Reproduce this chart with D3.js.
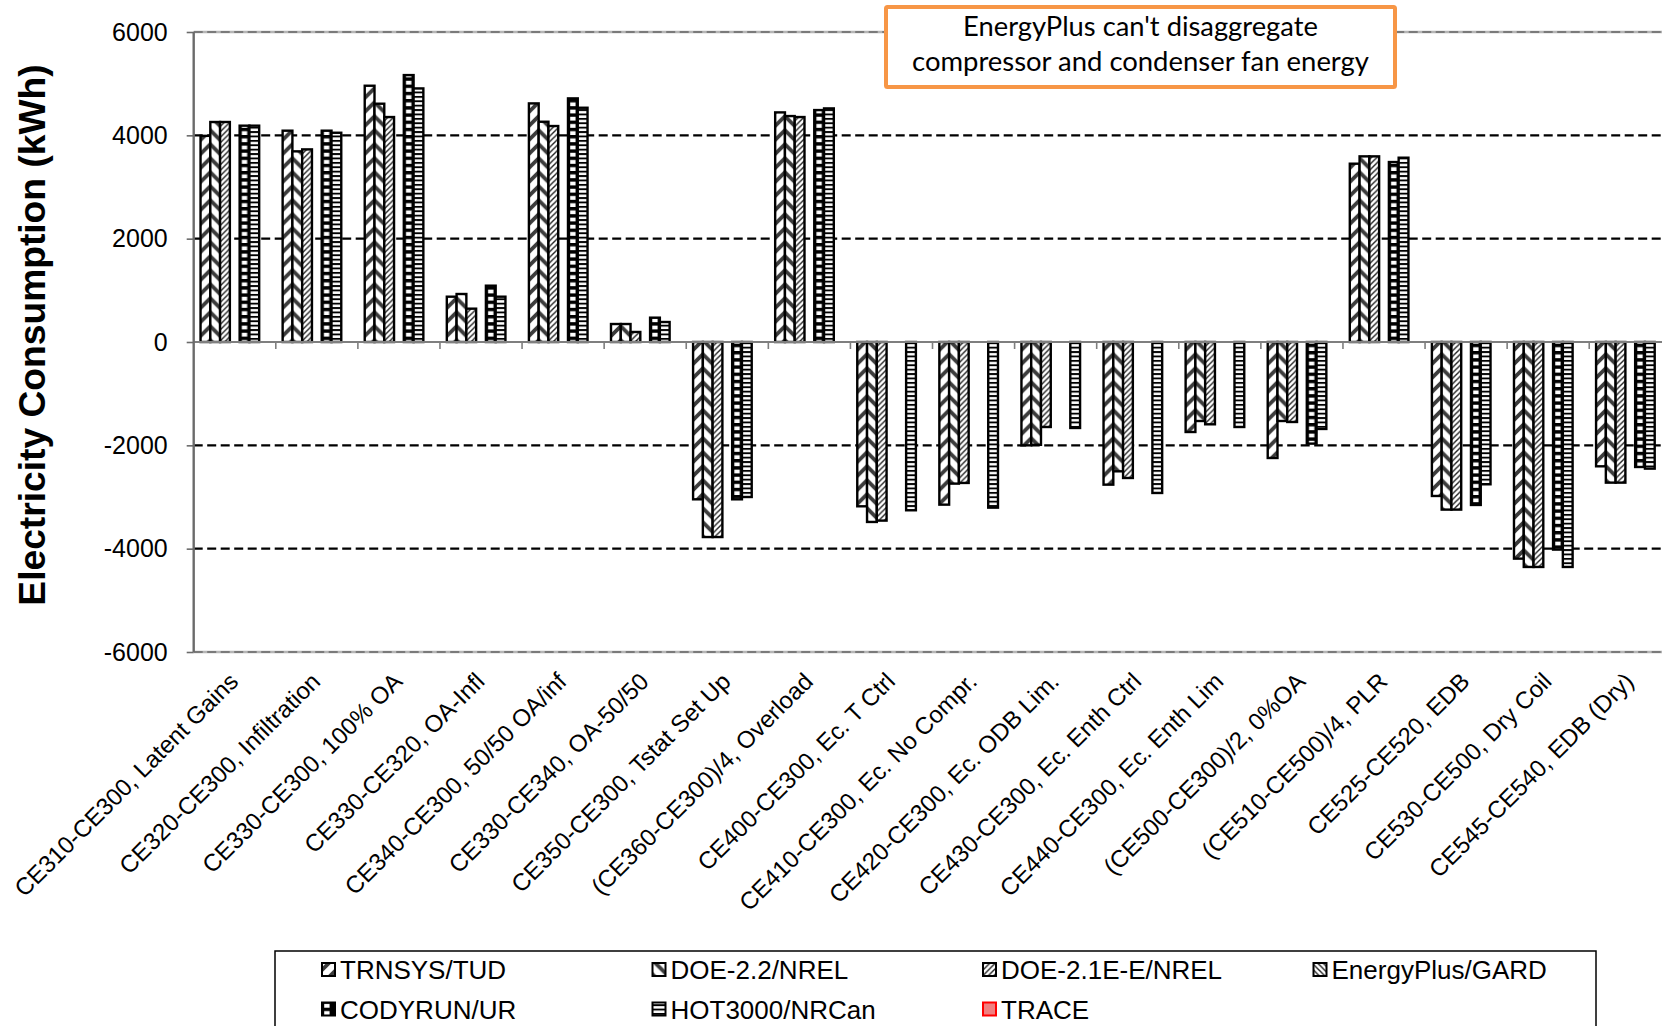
<!DOCTYPE html>
<html>
<head>
<meta charset="utf-8">
<script src="https://cdn.jsdelivr.net/npm/d3@7"></script>
<style>
  html, body { margin: 0; padding: 0; background: #fff; }
  svg { display: block; }
</style>
</head>
<body>
<svg id="chart" width="1662" height="1026"></svg>
<script>
// ---------------- DATA ----------------
const categories = [
  "CE310-CE300, Latent Gains",
  "CE320-CE300, Infiltration",
  "CE330-CE300, 100% OA",
  "CE330-CE320, OA-Infl",
  "CE340-CE300, 50/50 OA/inf",
  "CE330-CE340, OA-50/50",
  "CE350-CE300, Tstat Set Up",
  "(CE360-CE300)/4, Overload",
  "CE400-CE300, Ec. T Ctrl",
  "CE410-CE300, Ec. No Compr.",
  "CE420-CE300, Ec. ODB Lim.",
  "CE430-CE300, Ec. Enth Ctrl",
  "CE440-CE300, Ec. Enth Lim",
  "(CE500-CE300)/2, 0%OA",
  "(CE510-CE500)/4, PLR",
  "CE525-CE520, EDB",
  "CE530-CE500, Dry Coil",
  "CE545-CE540, EDB (Dry)"
];
const seriesNames = ["TRNSYS/TUD", "DOE-2.2/NREL", "DOE-2.1E-E/NREL", "EnergyPlus/GARD", "CODYRUN/UR", "HOT3000/NRCan", "TRACE"];

const trnsys     = [3990, 4090, 4960, 877, 4618, 348, -3045, 4444, -3180, -3148, -2000, -2761, -1742, -2245, 3451, -2980, -4193, -2406];
const doe22      = [4258, 3690, 4612, 929, 4263, 348, -3775, 4373, -3483, -2741, -1990, -2503, -1529, -1529, 3593, -3244, -4354, -2722];
const doe21e     = [4258, 3728, 4354, 645, 4180, 194, -3775, 4354, -3457, -2728, -1645, -2632, -1593, -1548, 3593, -3244, -4354, -2722];
const energyplus = [null, null, null, null, null, null, null, null, null, null, null, null, null, null, null, null, null, null];
const codyrun    = [4187, 4090, 5166, 1090, 4715, 471, -3045, 4489, null, null, null, null, null, -1967, 3483, -3154, -4018, -2419];
const hot3000    = [4187, 4050, 4908, 877, 4534, 387, -3000, 4521, -3257, -3206, -1664, -2922, -1645, -1683, 3567, -2754, -4354, -2451];
const trace      = [null, null, null, null, null, null, null, null, null, null, null, null, null, null, null, null, null, null];

const yTicks = [-6000, -4000, -2000, 0, 2000, 4000, 6000];
const yTitle = "Electricity Consumption (kWh)";
const noteLines = ["EnergyPlus can't disaggregate", "compressor and condenser fan energy"];

const seriesValues = [trnsys, doe22, doe21e, energyplus, codyrun, hot3000, trace];

// ---------------- LAYOUT ----------------
const svg = d3.select("#chart");
const plotLeft = 193.7, catWidth = 82.09;
const plotRight = plotLeft + catWidth * categories.length;
const plotTop = 32, plotBottom = 652;

const x0 = d3.scaleBand().domain(categories).range([plotLeft, plotRight]).padding(0);
const groupInner = 68.4;
const x1 = d3.scaleBand().domain(seriesNames)
  .range([(catWidth - groupInner) / 2, (catWidth + groupInner) / 2]).padding(0);
const bw = x1.bandwidth();
const y = d3.scaleLinear().domain([-6000, 6000]).range([plotBottom, plotTop]);

// ---------------- PATTERNS ----------------
const defs = svg.append("defs");
const P = 14;
const stripe = "#3c3c3c";
function diagUp(id, p, w, color, dy) {
  const pat = defs.append("pattern").attr("id", id).attr("patternUnits", "userSpaceOnUse")
    .attr("width", p).attr("height", p);
  if (dy) pat.attr("patternTransform", `translate(0,${dy})`);
  pat.append("rect").attr("width", p).attr("height", p).attr("fill", "#fff");
  pat.append("path").attr("d", `M-2,2 L2,-2 M0,${p} L${p},0 M${p-2},${p+2} L${p+2},${p-2}`)
    .attr("stroke", color).attr("stroke-width", w);
}
function diagDown(id, p, w, color, dy) {
  const pat = defs.append("pattern").attr("id", id).attr("patternUnits", "userSpaceOnUse")
    .attr("width", p).attr("height", p);
  if (dy) pat.attr("patternTransform", `translate(0,${dy})`);
  pat.append("rect").attr("width", p).attr("height", p).attr("fill", "#fff");
  pat.append("path").attr("d", `M0,0 L${p},${p} M-2,${p-2} L2,${p+2} M${p-2},-2 L${p+2},2`)
    .attr("stroke", color).attr("stroke-width", w);
}
diagUp("p0", P, 3.8, stripe, 0);
diagDown("p1", P, 3.8, stripe, -bw);
diagUp("p2", 5.5, 1.4, "#222", 0);
diagDown("p3", 5.5, 1.4, "#222", 0);
// CODYRUN: black with white bricks
(function () {
  const pat = defs.append("pattern").attr("id", "p4").attr("patternUnits", "userSpaceOnUse")
    .attr("width", 40).attr("height", 7.2);
  pat.append("rect").attr("width", 40).attr("height", 7.2).attr("fill", "#000");
  pat.append("rect").attr("x", 2.2).attr("y", 1.6).attr("width", bw - 4.4).attr("height", 3.8).attr("fill", "#fff");
})();
// HOT3000: fine horizontal stripes
(function () {
  const pat = defs.append("pattern").attr("id", "p5").attr("patternUnits", "userSpaceOnUse")
    .attr("width", 40).attr("height", 4.4);
  pat.append("rect").attr("width", 40).attr("height", 4.4).attr("fill", "#000");
  pat.append("rect").attr("x", 0).attr("y", 1.0).attr("width", 40).attr("height", 2.5).attr("fill", "#fff");
})();
const fills = ["url(#p0)", "url(#p1)", "url(#p2)", "url(#p3)", "url(#p4)", "url(#p5)", "#f08080"];
const strokes = ["#000", "#000", "#000", "#000", "#000", "#000", "#ff0000"];

// ---------------- GRID ----------------
const grid = svg.append("g");
grid.selectAll("line.g").data(yTicks.filter(t => t !== 0 && Math.abs(t) !== 6000)).join("line")
  .attr("x1", plotLeft).attr("x2", plotRight + 20)
  .attr("y1", d => y(d)).attr("y2", d => y(d))
  .attr("stroke", "#000").attr("stroke-width", 2.4).attr("stroke-dasharray", "9,4.5");
grid.selectAll("line.b").data([6000, -6000]).join("line")
  .attr("x1", plotLeft).attr("x2", plotRight + 20)
  .attr("y1", d => y(d)).attr("y2", d => y(d))
  .attr("stroke", "#b5b5b5").attr("stroke-width", 2.4);
grid.selectAll("line.b2").data([6000, -6000]).join("line")
  .attr("x1", plotLeft).attr("x2", plotRight + 20)
  .attr("y1", d => y(d)).attr("y2", d => y(d))
  .attr("stroke", "#7a7a7a").attr("stroke-width", 2).attr("stroke-dasharray", "9,4.5");

// ---------------- BARS ----------------
const barData = [];
categories.forEach((c, ci) => {
  seriesNames.forEach((s, si) => {
    const v = seriesValues[si][ci];
    if (v !== null && v !== undefined) barData.push({ c, s, si, v });
  });
});
const bars = svg.append("g").selectAll("g").data(barData).join("g")
  .attr("transform", d => `translate(${x0(d.c) + x1(d.s)},0)`);
bars.append("rect")
  .attr("x", 0).attr("width", bw)
  .attr("y", d => y(Math.max(0, d.v)))
  .attr("height", d => Math.abs(y(d.v) - y(0)))
  .attr("fill", d => fills[d.si])
  .attr("stroke", d => strokes[d.si]).attr("stroke-width", 2.4);

// ---------------- AXES ----------------
svg.append("line").attr("x1", plotLeft).attr("x2", plotRight + 20)
  .attr("y1", y(0)).attr("y2", y(0)).attr("stroke", "#7f7f7f").attr("stroke-width", 2);
svg.append("g").selectAll("line").data(categories.slice(1)).join("line")
  .attr("x1", d => x0(d)).attr("x2", d => x0(d))
  .attr("y1", y(0)).attr("y2", y(0) + 7)
  .attr("stroke", "#7f7f7f").attr("stroke-width", 1.6);

const yAxis = svg.append("g").attr("transform", `translate(${plotLeft},0)`)
  .call(d3.axisLeft(y).tickValues(yTicks).tickSize(7).tickPadding(19).tickFormat(d => String(d)));
yAxis.select(".domain").attr("stroke", "#6b6b6b").attr("stroke-width", 2.4)
  .attr("d", `M0,${plotTop}V${plotBottom}`);
yAxis.selectAll(".tick line").attr("stroke", "#6b6b6b").attr("stroke-width", 1.6);
yAxis.selectAll(".tick text").attr("font-family", "'Liberation Sans', Arial, sans-serif")
  .attr("font-size", 25).attr("fill", "#000");

// category labels
svg.append("g").selectAll("text").data(categories).join("text")
  .attr("transform", d => `translate(${x0(d) + x0.bandwidth() / 2 - 1},${plotBottom + 25}) rotate(-45)`)
  .attr("text-anchor", "end").attr("dy", "0.35em")
  .attr("font-family", "'Liberation Sans', Arial, sans-serif").attr("font-size", 24)
  .attr("fill", "#000").text(d => d);

// y title
svg.append("text")
  .attr("transform", `translate(32,335) rotate(-90)`)
  .attr("text-anchor", "middle").attr("dy", "0.36em")
  .attr("font-family", "'Liberation Sans', Arial, sans-serif").attr("font-weight", "bold")
  .attr("font-size", 37.2).attr("fill", "#000").text(yTitle);

// ---------------- NOTE BOX ----------------
const note = svg.append("g");
note.append("rect").attr("x", 886).attr("y", 7).attr("width", 509).attr("height", 80)
  .attr("fill", "#fff").attr("stroke", "#f79646").attr("stroke-width", 4).attr("rx", 1.5);
const noteTargets = [355, 457];
note.selectAll("text").data(noteLines).join("text")
  .attr("x", 1140.5).attr("y", (d, i) => 26 + i * 35)
  .attr("text-anchor", "middle").attr("dy", "0.35em")
  .attr("font-family", "Lato, 'Open Sans', sans-serif").attr("font-size", 28)
  .attr("fill", "#000").text(d => d)
  .each(function (d, i) {
    const w = this.getComputedTextLength();
    if (w > 0) d3.select(this).attr("font-size", 28 * noteTargets[i] / w);
  });

// ---------------- LEGEND ----------------
const legend = svg.append("g");
legend.append("rect").attr("x", 275).attr("y", 951).attr("width", 1321).attr("height", 120)
  .attr("fill", "#fff").attr("stroke", "#000").attr("stroke-width", 1.5);
const legItems = legend.selectAll("g").data(seriesNames).join("g")
  .attr("transform", (d, i) => `translate(${322 + (i % 4) * 330.5},${970 + Math.floor(i / 4) * 39.5})`);
legItems.append("rect").attr("x", 0).attr("y", -7).attr("width", 13).attr("height", 13)
  .attr("fill", (d, i) => fills[i]).attr("stroke", (d, i) => strokes[i]).attr("stroke-width", 2);
legItems.append("text").attr("x", 18).attr("dy", "0.36em")
  .attr("font-family", "'Liberation Sans', Arial, sans-serif").attr("font-size", 26)
  .attr("fill", "#000").text(d => d);
</script>
</body>
</html>
